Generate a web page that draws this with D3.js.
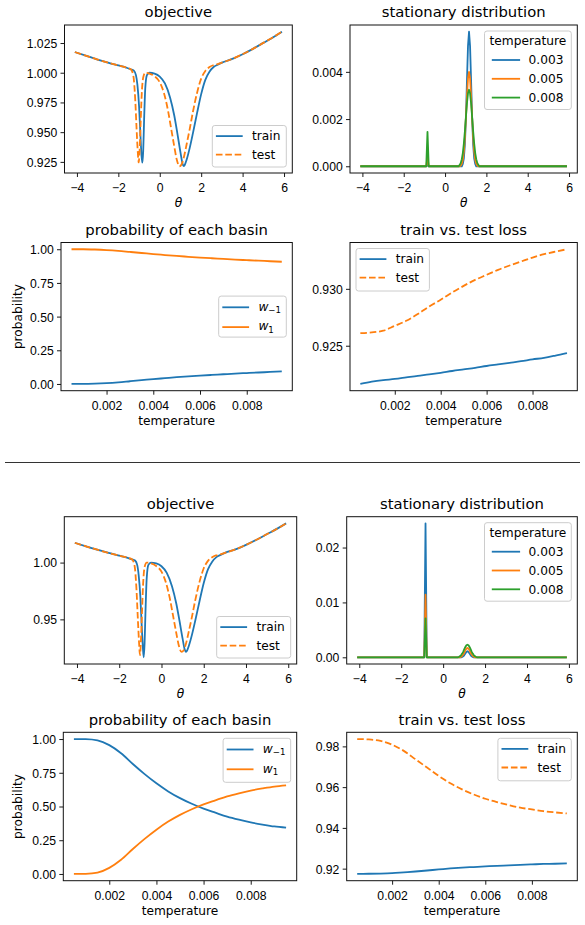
<!DOCTYPE html>
<html>
<head>
<meta charset="utf-8">
<script src="https://cdn.jsdelivr.net/npm/d3@7"></script>
<style>
body{margin:0;background:#fff}
svg{display:block;font-family:"DejaVu Sans",sans-serif}
.axis .tick text{font-size:12.2px;fill:#000}
.axis .domain{display:none}
.axis .tick line{stroke:#000;stroke-width:0.9}
.title{font-size:14.8px;fill:#000}
.label{font-size:12.2px;fill:#000}
.leg{font-size:12.2px;fill:#000}
</style>
</head>
<body>
<svg id="fig" width="585" height="925"></svg>
<script>
// ---- data ----
const thetaTicks = [-4, -2, 0, 2, 4, 6]
const tempTicks = [0.002, 0.004, 0.006, 0.008]
const probTicks = [0, 0.25, 0.5, 0.75, 1]
const temps = [0.0005,0.001,0.0015,0.002,0.0025,0.003,0.0035,0.004,0.0045,0.005,
               0.0055,0.006,0.0065,0.007,0.0075,0.008,0.0085,0.009,0.0095]
const tempLabels = ["0.003", "0.005", "0.008"]

// objective, shared flanks
const objLeft = [[-4.1,1.0174],[-3.5,1.0139],[-3.0,1.0111],[-2.5,1.0085],[-2.0,1.0061],[-1.6,1.0042],[-1.4,1.0029]]
const objRight = [[3.0,1.0085],[3.5,1.0116],[4.0,1.0156],[4.5,1.0201],[5.0,1.0251],[5.5,1.0301],[5.9,1.0345]]

// objective, top experiment
const trainObjTop = [[-1.25,1.0018],[-1.15,0.998],[-1.08,0.990],[-1.0,0.972],[-0.94,0.950],[-0.88,0.930],[-0.84,0.9243],
  [-0.8,0.934],[-0.76,0.958],[-0.7,0.987],[-0.62,0.998],[-0.5,1.0],[-0.25,0.9993],[0,0.9968],[0.25,0.991],[0.5,0.979],
  [0.7,0.964],[0.85,0.949],[1.0,0.933],[1.1,0.9235],[1.15,0.9214],[1.2,0.9222],[1.3,0.927],[1.45,0.937],[1.6,0.949],
  [1.8,0.966],[2.0,0.982],[2.2,0.994],[2.4,1.0008],[2.6,1.0048],[2.8,1.0068]]
const testObjTop = [[-1.32,1.0005],[-1.25,0.994],[-1.18,0.976],[-1.12,0.953],[-1.06,0.933],[-1.02,0.9245],[-0.98,0.932],
  [-0.93,0.955],[-0.87,0.982],[-0.8,0.996],[-0.7,1.0],[-0.5,0.9993],[-0.25,0.997],[0,0.992],[0.2,0.983],[0.4,0.968],
  [0.55,0.953],[0.7,0.938],[0.82,0.927],[0.95,0.9213],[1.05,0.9228],[1.15,0.928],[1.3,0.94],[1.45,0.953],[1.6,0.967],
  [1.8,0.983],[2.0,0.995],[2.2,1.0015],[2.4,1.0048],[2.6,1.0064],[2.8,1.0073]]

// objective, bottom experiment
const trainObjBot = [[-1.25,1.0018],[-1.15,0.998],[-1.08,0.989],[-1.0,0.970],[-0.94,0.946],[-0.88,0.925],[-0.84,0.9166],
  [-0.8,0.929],[-0.76,0.955],[-0.7,0.986],[-0.62,0.998],[-0.5,1.0],[-0.25,0.9993],[0,0.9968],[0.25,0.991],[0.5,0.979],
  [0.7,0.964],[0.85,0.949],[1.0,0.933],[1.1,0.9235],[1.15,0.9214],[1.2,0.9222],[1.3,0.927],[1.45,0.937],[1.6,0.949],
  [1.8,0.966],[2.0,0.982],[2.2,0.994],[2.4,1.0008],[2.6,1.0048],[2.8,1.0068]]
const testObjBot = [[-1.32,1.0005],[-1.25,0.994],[-1.18,0.975],[-1.12,0.951],[-1.06,0.929],[-1.02,0.9185],[-0.98,0.928],
  [-0.93,0.952],[-0.87,0.981],[-0.8,0.996],[-0.7,1.0],[-0.5,0.9993],[-0.25,0.997],[0,0.992],[0.2,0.983],[0.4,0.968],
  [0.55,0.953],[0.7,0.938],[0.82,0.927],[0.95,0.9213],[1.05,0.9228],[1.15,0.928],[1.3,0.94],[1.45,0.953],[1.6,0.967],
  [1.8,0.983],[2.0,0.995],[2.2,1.0015],[2.4,1.0048],[2.6,1.0064],[2.8,1.0073]]

// stationary distribution, top
const statTop003 = [[-4.1,0],[-0.91,0],[-0.85,0.00005],[-0.79,0],[0.81,0],[0.86,0.0001],[0.91,0.00034],[0.96,0.00093],
  [1.01,0.00205],[1.06,0.00362],[1.11,0.00509],[1.16,0.0057],[1.21,0.00509],[1.26,0.00362],[1.31,0.00205],[1.36,0.00093],
  [1.41,0.00034],[1.46,0.0001],[1.51,0],[5.9,0]]
const statTop005 = [[-4.1,0],[-0.91,0],[-0.85,0.0004],[-0.79,0],[0.71,0],[0.76,0.00003],[0.81,0.00011],[0.86,0.00028],
  [0.91,0.00063],[0.96,0.00123],[1.01,0.00206],[1.06,0.00298],[1.11,0.00372],[1.16,0.004],[1.21,0.00372],[1.26,0.00298],
  [1.31,0.00206],[1.36,0.00123],[1.41,0.00063],[1.46,0.00028],[1.51,0.00011],[1.56,0.00003],[1.61,0],[5.9,0]]
const statTop008 = [[-4.1,0],[-0.91,0],[-0.85,0.00146],[-0.79,0],[0.66,0],[0.71,0.00006],[0.76,0.00014],[0.81,0.0003],
  [0.86,0.00056],[0.91,0.00096],[0.96,0.00148],[1.01,0.00209],[1.06,0.00267],[1.11,0.00309],[1.16,0.00324],[1.21,0.00309],
  [1.26,0.00267],[1.31,0.00209],[1.36,0.00148],[1.41,0.00096],[1.46,0.00056],[1.51,0.0003],[1.56,0.00014],[1.61,0.00006],
  [1.66,0],[5.9,0]]

// stationary distribution, bottom
const statBot003 = [[-4.1,0],[-0.9,0],[-0.84,0.0244],[-0.78,0],[0.86,0],[0.91,0.00006],[0.96,0.00018],[1.01,0.0004],
  [1.06,0.0007],[1.11,0.00098],[1.16,0.0011],[1.21,0.00098],[1.26,0.0007],[1.31,0.0004],[1.36,0.00018],[1.41,0.00006],
  [1.46,0],[5.9,0]]
const statBot005 = [[-4.1,0],[-0.9,0],[-0.84,0.0114],[-0.78,0],[0.81,0],[0.86,0.00012],[0.91,0.00027],[0.96,0.00052],
  [1.01,0.00087],[1.06,0.00126],[1.11,0.00158],[1.16,0.0017],[1.21,0.00158],[1.26,0.00126],[1.31,0.00087],[1.36,0.00052],
  [1.41,0.00027],[1.46,0.00012],[1.51,0],[5.9,0]]
const statBot008 = [[-4.1,0],[-0.9,0],[-0.84,0.0071],[-0.78,0],[0.71,0],[0.76,0.0001],[0.81,0.00021],[0.86,0.0004],
  [0.91,0.00068],[0.96,0.00105],[1.01,0.00148],[1.06,0.00189],[1.11,0.00219],[1.16,0.0023],[1.21,0.00219],[1.26,0.00189],
  [1.31,0.00148],[1.36,0.00105],[1.41,0.00068],[1.46,0.0004],[1.51,0.00021],[1.56,0.0001],[1.61,0],[5.9,0]]

// probability of each basin
const probNegTop = [0.000,0.000,0.002,0.006,0.012,0.020,0.028,0.036,0.043,0.050,0.056,0.062,0.067,0.072,0.077,0.081,0.085,0.089,0.093]
const probPosTop = [1.000,1.000,0.998,0.994,0.988,0.980,0.972,0.964,0.957,0.950,0.944,0.938,0.933,0.928,0.923,0.919,0.915,0.911,0.907]
const probNegBot = [1.000,0.999,0.990,0.955,0.895,0.815,0.740,0.672,0.612,0.562,0.520,0.484,0.454,0.425,0.402,0.382,0.366,0.352,0.343]
const probPosBot = [0.000,0.001,0.010,0.045,0.105,0.185,0.260,0.328,0.388,0.438,0.480,0.516,0.546,0.575,0.598,0.618,0.634,0.648,0.657]

// train vs test loss
const trainLossTop = [0.92164,0.92184,0.92198,0.92208,0.92222,0.92236,0.92248,0.92262,0.92278,0.92292,
                      0.92306,0.92322,0.92336,0.9235,0.92364,0.9238,0.92394,0.92414,0.92436]
const testLossTop = [0.92611,0.92617,0.92632,0.92675,0.92719,0.92778,0.92845,0.92904,0.92968,0.93026,
                     0.93079,0.93123,0.93167,0.93205,0.9324,0.93275,0.93304,0.93327,0.93348]
const trainLossBot = [0.9174,0.9175,0.9176,0.9178,0.9182,0.9186,0.9191,0.9196,0.9201,0.9205,
                      0.9208,0.9211,0.9214,0.9216,0.9219,0.9221,0.9223,0.9224,0.9226]
const testLossBot = [0.9836,0.9834,0.9827,0.9808,0.9778,0.9737,0.9696,0.9655,0.9619,0.9589,
                     0.9564,0.9543,0.9527,0.9512,0.9499,0.9491,0.9482,0.9476,0.9471]

const C0 = "#1f77b4", C1 = "#ff7f0e", C2 = "#2ca02c"
const LW = 1.8, DASH = "6.6,2.8"

const svg = d3.select("#fig")

function pad5(a) {
    let s = a[1] - a[0]
    return [a[0] - 0.05 * s, a[1] + 0.05 * s]
}

function panel(box, xDom, yDom, xTicks, xFmt, yTicks, yFmt, title, xLabel, yLabel) {
    let x = d3.scaleLinear().domain(pad5(xDom)).range([0, box.w])
    let y = d3.scaleLinear().domain(pad5(yDom)).range([box.h, 0])
    let g = svg.append("g").attr("transform", `translate(${box.x},${box.y})`)
    let plot = g.append("g")

    g.append("g").attr("class", "axis")
        .attr("transform", `translate(0,${box.h})`)
        .call(d3.axisBottom(x).tickValues(xTicks).tickFormat(d3.format(xFmt)).tickSize(4).tickPadding(6.6))
    g.append("g").attr("class", "axis")
        .call(d3.axisLeft(y).tickValues(yTicks).tickFormat(d3.format(yFmt)).tickSize(4).tickPadding(3.3))
        .selectAll("text").attr("dy", "0.36em")

    g.append("rect").attr("width", box.w).attr("height", box.h)
        .attr("fill", "none").attr("stroke", "#111").attr("stroke-width", 1)

    g.append("text").attr("class", "title")
        .attr("x", box.w / 2).attr("y", -7.6).attr("text-anchor", "middle").text(title)

    let xl = g.append("text").attr("class", "label")
        .attr("x", box.w / 2).attr("y", box.h + 34).attr("text-anchor", "middle").text(xLabel)
    if (xLabel === "θ") xl.attr("font-style", "italic")

    if (yLabel) {
        g.append("text").attr("class", "label")
            .attr("transform", `translate(${22 - box.x},${box.h / 2}) rotate(-90)`)
            .attr("text-anchor", "middle").text(yLabel)
    }
    return {g: g, plot: plot, x: x, y: y, box: box}
}

function drawPairs(p, pts, color, dash, curve) {
    p.plot.append("path")
        .datum(pts)
        .attr("fill", "none")
        .attr("stroke", color)
        .attr("stroke-width", LW)
        .attr("stroke-dasharray", dash || null)
        .attr("stroke-linejoin", "round")
        .attr("d", d3.line().x(d => p.x(d[0])).y(d => p.y(d[1])).curve(curve || d3.curveLinear))
}

function drawSeries(p, xs, ys, color, dash) {
    drawPairs(p, xs.map((t, i) => [t, ys[i]]), color, dash, d3.curveMonotoneX)
}

// label: plain string, or [base, subscript] drawn as math italic
function legend(p, loc, w, h, items, title) {
    let bx = loc === "upper left" ? 6 : p.box.w - 6 - w
    let by = loc === "lower right" ? p.box.h - 6 - h
           : loc === "center right" ? (p.box.h - h) / 2 : 6
    let lg = p.g.append("g").attr("transform", `translate(${bx},${by})`)
    lg.append("rect").attr("width", w).attr("height", h).attr("rx", 2.5)
        .attr("fill", "#fff").attr("fill-opacity", 0.8)
        .attr("stroke", "#cccccc").attr("stroke-width", 1)
    let math = Array.isArray(items[0].label)
    let h0 = title ? 7.3 : 3.6, h1 = title ? 35.6 : 30.4, tx = title ? 44 : 39.7
    let rowY = i => title ? 29 + 18.8 * i : (math ? 11.2 + 19.8 * i : 10.6 + 18.6 * i)
    if (title) {
        lg.append("text").attr("class", "leg").attr("x", w / 2).attr("y", 14)
            .attr("text-anchor", "middle").text(title)
    }
    items.forEach((it, i) => {
        let ry = rowY(i)
        lg.append("line").attr("x1", h0).attr("x2", h1).attr("y1", ry).attr("y2", ry)
            .attr("stroke", it.color).attr("stroke-width", LW)
            .attr("stroke-dasharray", it.dash || null)
        let t = lg.append("text").attr("class", "leg").attr("x", tx).attr("y", ry + (math ? 3.4 : 4.3))
        if (math) {
            t.append("tspan").attr("font-style", "italic").text(it.label[0])
            t.append("tspan").attr("font-size", "8.6px").attr("dy", 2.6).text(it.label[1])
        } else {
            t.text(it.label)
        }
    })
}

function objectivePanel(box, train, test, yTicks, yFmt) {
    let tr = objLeft.concat(train, objRight)
    let te = objLeft.concat(test, objRight)
    let all = tr.concat(te)
    let p = panel(box, [-4.1, 5.9], d3.extent(all, d => d[1]), thetaTicks, "d", yTicks, yFmt,
                  "objective", "θ", null)
    drawPairs(p, tr, C0, null, d3.curveMonotoneX)
    drawPairs(p, te, C1, DASH, d3.curveMonotoneX)
    legend(p, "lower right", 74, 41.5, [{label: "train", color: C0}, {label: "test", color: C1, dash: DASH}])
}

function stationaryPanel(box, series, yTicks, yFmt) {
    let top = d3.max(series, s => d3.max(s, d => d[1]))
    let p = panel(box, [-4.1, 5.9], [0, top], thetaTicks, "d", yTicks, yFmt,
                  "stationary distribution", "θ", null)
    let cols = [C0, C1, C2]
    series.forEach((s, i) => drawPairs(p, s, cols[i]))
    legend(p, "upper right", 86.8, 78.5,
           tempLabels.map((l, i) => ({label: l, color: cols[i]})), "temperature")
}

function probPanel(box, neg, pos, loc) {
    let p = panel(box, [temps[0], temps[temps.length - 1]], d3.extent(neg.concat(pos)), tempTicks, ".3f",
                  probTicks, ".2f", "probability of each basin", "temperature", "probability")
    drawSeries(p, temps, neg, C0)
    drawSeries(p, temps, pos, C1)
    legend(p, loc, 67.6, loc === "center right" ? 41 : 44,
           [{label: ["w", "−1"], color: C0}, {label: ["w", "1"], color: C1}])
}

function lossPanel(box, train, test, yTicks, yFmt, loc) {
    let p = panel(box, [temps[0], temps[temps.length - 1]], d3.extent(train.concat(test)), tempTicks, ".3f",
                  yTicks, yFmt, "train vs. test loss", "temperature", null)
    drawSeries(p, temps, train, C0)
    drawSeries(p, temps, test, C1, DASH)
    legend(p, loc, 73.4, 42.5, [{label: "train", color: C0}, {label: "test", color: C1, dash: DASH}])
}

// ---- top figure ----
objectivePanel({x: 64.5, y: 25, w: 227.8, h: 148}, trainObjTop, testObjTop,
               [0.925, 0.95, 0.975, 1.0, 1.025], ".3f")
stationaryPanel({x: 350, y: 25, w: 227.3, h: 148}, [statTop003, statTop005, statTop008],
                [0, 0.002, 0.004], ".3f")
probPanel({x: 61, y: 242.5, w: 231.3, h: 148.2}, probNegTop, probPosTop, "center right")
lossPanel({x: 350, y: 242.5, w: 227.3, h: 148.2}, trainLossTop, testLossTop,
          [0.925, 0.930], ".3f", "upper left")

// separator
svg.append("line").attr("x1", 5).attr("x2", 580).attr("y1", 462.5).attr("y2", 462.5)
    .attr("stroke", "#333").attr("stroke-width", 1)

// ---- bottom figure ----
objectivePanel({x: 64.3, y: 516.7, w: 232.4, h: 147.3}, trainObjBot, testObjBot, [0.95, 1.0], ".2f")
stationaryPanel({x: 346.7, y: 516.7, w: 230.6, h: 147.3}, [statBot003, statBot005, statBot008],
                [0, 0.01, 0.02], ".2f")
probPanel({x: 63.3, y: 732.3, w: 233.4, h: 148.4}, probNegBot, probPosBot, "upper right")
lossPanel({x: 346.7, y: 732.3, w: 230.6, h: 148.4}, trainLossBot, testLossBot,
          [0.92, 0.94, 0.96, 0.98], ".2f", "upper right")
</script>
</body>
</html>
